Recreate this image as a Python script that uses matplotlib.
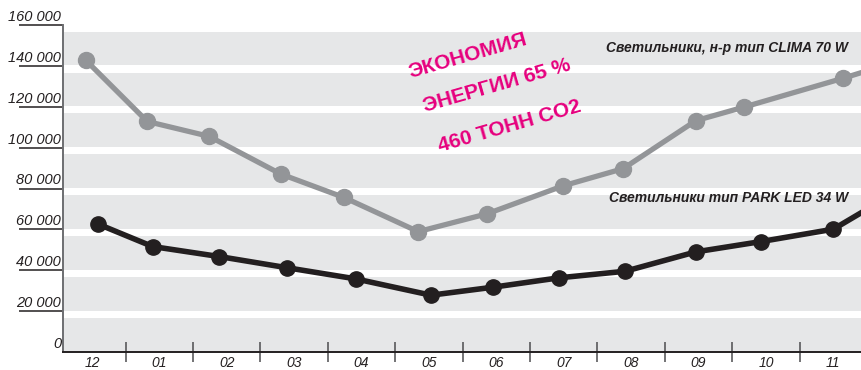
import matplotlib
matplotlib.use('Agg')
import matplotlib.pyplot as plt
from matplotlib.transforms import blended_transform_factory, offset_copy

plt.rcParams['font.family'] = ['Liberation Sans', 'DejaVu Sans']

# months on the x axis
months = ['12', '01', '02', '03', '04', '05', '06', '07', '08', '09', '10', '11']

# y axis
y_values = [0, 20000, 40000, 60000, 80000, 100000, 120000, 140000, 160000]
y_labels = ['0', '20 000', '40 000', '60 000', '80 000', '100 000', '120 000', '140 000', '160 000']

# CLIMA 70 W (grey line), x in month index, last point runs off the chart
clima_x = [-0.09, 0.82, 1.74, 2.80, 3.74, 4.84, 5.86, 6.99, 7.88, 8.96, 9.68, 11.14, 12.0]
clima_y = [142700, 112800, 105500, 87100, 75600, 58900, 67600, 81300, 89700, 113200, 119900, 133900, 142700]

# PARK LED 34 W (black line)
park_x = [0.09, 0.90, 1.89, 2.90, 3.91, 5.03, 5.95, 6.93, 7.91, 8.96, 9.92, 11.0, 12.0]
park_y = [62600, 51600, 46700, 41200, 35800, 27800, 31700, 36300, 39500, 49000, 54000, 60100, 79600]

clima_label = 'Светильники, н-р тип CLIMA 70 W'
park_label = 'Светильники тип PARK LED 34 W'
saving_lines = ['ЭКОНОМИЯ', 'ЭНЕРГИИ 65 %', '460 ТОНН CO2']

GREY = '#939598'
DARK = '#231f20'
BAND = '#e6e7e8'
PINK = '#e6007e'

fig = plt.figure(figsize=(8.61, 3.70), dpi=100)
ax = fig.add_axes([63 / 861, 18 / 370, 798 / 861, 327 / 370])
ax.set_xlim(-0.43, 11.41)
ax.set_ylim(0, 160000)

# grey bands with white gaps just above every grid value
ax.set_facecolor(BAND)
for v in y_values[1:]:
    ax.axhspan(v - 3300, v + 300, color='white', lw=0, zorder=0.5)

ax.plot(clima_x, clima_y, color=GREY, lw=3.8, marker='o', ms=11.5, zorder=3)
ax.plot(park_x, park_y, color=DARK, lw=4, marker='o', ms=11, zorder=4)

# spines
for s in ['top', 'right']:
    ax.spines[s].set_visible(False)
ax.spines['left'].set_color('#6d6e71')
ax.spines['left'].set_linewidth(1.4)
ax.spines['bottom'].set_color(DARK)
ax.spines['bottom'].set_linewidth(1.4)

# y ticks: long lines to the left, labels sit on top of them
ax.set_yticks(y_values[1:])
ax.set_yticklabels([])
ax.tick_params(axis='y', direction='out', length=32, width=1.1, color=DARK)
trans = blended_transform_factory(ax.transAxes, ax.transData)
trans = offset_copy(trans, fig=fig, x=-2, y=1, units='dots')
for v, lab in zip(y_values, y_labels):
    ax.text(0, v, lab, transform=trans, ha='right', va='bottom',
            fontsize=10.5, style='italic', color=DARK)

# x ticks: labels centred on month, small ticks between months
ax.set_xticks(range(len(months)))
ax.set_xticklabels(months, style='italic', fontsize=10, color=DARK)
ax.tick_params(axis='x', which='major', length=0, pad=3)
ax.set_xticks([i + 0.5 for i in range(len(months) - 1)], minor=True)
ax.tick_params(axis='x', which='minor', direction='inout', length=14, width=1.1, color='#4d4d4f')

# series labels
ax.text(11.22, 147000, clima_label, ha='right', va='baseline', fontsize=10,
        weight='bold', style='italic', color=DARK)
ax.text(11.22, 73500, park_label, ha='right', va='baseline', fontsize=10,
        weight='bold', style='italic', color=DARK)

# pink note, one text per line
note_pos = [(4.72, 134300), (4.94, 117600), (5.16, 98000)]
for (x, y), line in zip(note_pos, saving_lines):
    ax.text(x, y, line, rotation=16, rotation_mode='anchor', ha='left', va='baseline',
            fontsize=15, weight='bold', color=PINK, zorder=5)

plt.savefig('out.png', dpi=100)
plt.close()
